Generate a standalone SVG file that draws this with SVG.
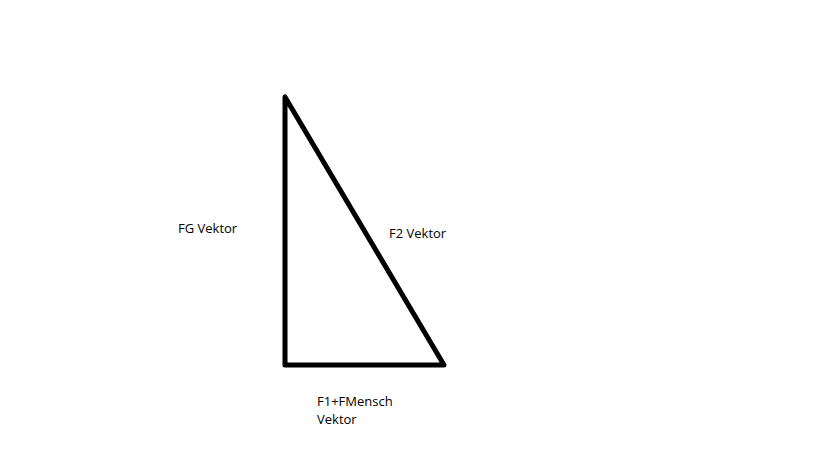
<svg xmlns="http://www.w3.org/2000/svg" width="819" height="460" viewBox="0 0 819 460">
<style>
text{font-family:"Open Sans","Liberation Sans",sans-serif;font-size:13px;fill:#000}
.edge{fill:none;stroke:#000;stroke-width:5;stroke-linejoin:round;stroke-linecap:round}
</style>
<rect width="819" height="460" fill="#fff"/>
<g id="connectors">
<path class="edge" d="M285 97 L285 365 L444 365 Z"/>
</g>
<g id="label-fg"><text x="178" y="233">FG Vektor</text></g>
<g id="label-f2"><text x="389" y="238">F2 Vektor</text></g>
<g id="label-f1"><text x="317" y="406">F1+FMensch</text><text x="317" y="424">Vektor</text></g>
</svg>
